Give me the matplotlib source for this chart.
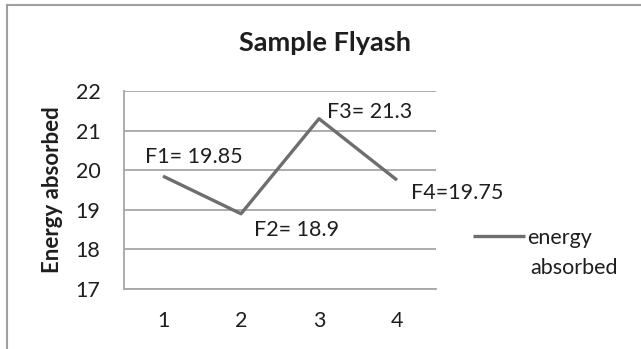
import matplotlib
matplotlib.use('Agg')
import matplotlib.pyplot as plt
from matplotlib.lines import Line2D

# data
samples = [1, 2, 3, 4]
energy = [19.85, 18.9, 21.3, 19.75]
point_labels = ['F1= 19.85', 'F2= 18.9', 'F3= 21.3', 'F4=19.75']
y_ticks = [17, 18, 19, 20, 21, 22]

plt.rcParams['font.family'] = ['Lato', 'DejaVu Sans']

W, H = 641, 349
fig = plt.figure(figsize=(W / 100, H / 100), dpi=100)
ax = fig.add_axes([124 / W, 1 - 289 / H, 312 / W, 198 / H])

line_color = '#6e6e6e'
grid_color = '#a6a6a6'
text_color = '#1e1e1e'

ax.plot(samples, energy, color=line_color, lw=2.4, label='energy',
        solid_capstyle='butt', zorder=3)

ax.set_xlim(0.5, 4.5)
ax.set_ylim(17, 22)
ax.set_xticks(samples)
ax.set_yticks(y_ticks)
ax.tick_params(length=0, labelsize=15.5, colors=text_color)
ax.tick_params(axis='y', pad=17)
ax.tick_params(axis='x', pad=16)
ax.yaxis.grid(True, color=grid_color, lw=1.3)
ax.set_axisbelow(True)
for side in ['top', 'right']:
    ax.spines[side].set_visible(False)
for side in ['left', 'bottom']:
    ax.spines[side].set_color(grid_color)
    ax.spines[side].set_linewidth(1.3)

# point labels
offsets = [(-13, 14), (9.5, -12), (6, 5), (10, -9.5)]
for x, y, lab, off in zip(samples, energy, point_labels, offsets):
    ax.annotate(lab, (x, y), xytext=off, textcoords='offset points',
                fontsize=15.5, color=text_color, ha='left', va='center')

# title is centred on the whole chart area, not on the plot
fig.text(325 / W, 1 - 43 / H, 'Sample Flyash', fontsize=19.5, fontweight='bold',
         color=text_color, ha='center', va='center')
ax.set_ylabel('Energy absorbed', fontsize=16, fontweight='bold', color=text_color)
ax.yaxis.set_label_coords(-(124 - 63) / 312, 0.5)

# legend: handle sits on the first line of the wrapped label
leg = ax.legend(loc='center left', bbox_to_anchor=(1.085, 0.26), frameon=False,
                fontsize=15.5, handlelength=2.4, handletextpad=0.1,
                labelcolor=text_color, borderpad=0)
fig.text(530 / W, 1 - 268 / H, 'absorbed', fontsize=15.5, color=text_color,
         ha='left', va='center')

# outer chart border (partially cropped)
fig.add_artist(Line2D([7 / W, 7 / W], [0, 1 - 5 / H], transform=fig.transFigure,
                      color='#a0a0a0', lw=1.5))
fig.add_artist(Line2D([7 / W, 1], [1 - 5 / H, 1 - 5 / H], transform=fig.transFigure,
                      color='#a0a0a0', lw=1.5))

fig.savefig('out.png', dpi=100)
